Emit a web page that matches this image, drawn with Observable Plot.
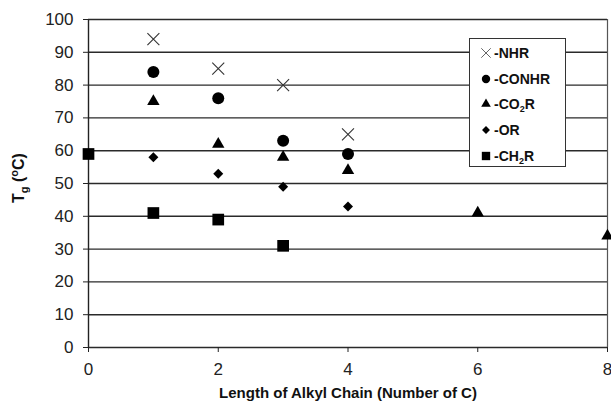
<!DOCTYPE html>
<html><head><meta charset="utf-8">
<script src="https://cdn.jsdelivr.net/npm/d3@7"></script>
<script src="https://cdn.jsdelivr.net/npm/@observablehq/plot@0.6"></script>
<style>
body{margin:0;background:#fff;}
#wrap{position:relative;width:611px;height:403px;font-family:"Liberation Sans",Arial,sans-serif;}
#legend{position:absolute;left:469px;top:38px;width:97px;height:129px;background:#fff;border:1px solid #333;box-sizing:border-box;font-weight:bold;font-size:14px;color:#111;}
#legend .row{position:absolute;left:10px;height:16px;display:flex;align-items:center;white-space:nowrap;}
#legend svg{margin-right:2px;}
sub{font-size:9px;vertical-align:-3px;line-height:0;}
</style>
</head><body><div id="wrap"></div>
<script>
const xTicks = [0, 2, 4, 6, 8];
const yTicks = [0, 10, 20, 30, 40, 50, 60, 70, 80, 90, 100];
const seriesLabels = ["-NHR", "-CONHR", "-CO<sub>2</sub>R", "-OR", "-CH<sub>2</sub>R"];
const nhrX = [1, 2, 3, 4];
const nhrY = [94, 85, 80, 65];
const conhrX = [1, 2, 3, 4];
const conhrY = [84, 76, 63, 59];
const co2rX = [1, 2, 3, 4, 6, 8];
const co2rY = [75, 62, 58, 54, 41, 34];
const orX = [1, 2, 3, 4];
const orY = [58, 53, 49, 43];
const ch2rX = [0, 1, 2, 3];
const ch2rY = [59, 41, 39, 31];

const pts = (xs, ys) => xs.map((x, i) => ({x, y: ys[i]}));
const font = '"Liberation Sans", Arial, sans-serif';

const chart = Plot.plot({
  width: 611, height: 403,
  marginLeft: 88, marginRight: 4, marginTop: 19, marginBottom: 56,
  style: {fontFamily: font, fontSize: "16px", color: "#222", background: "#fff", overflow: "hidden"},
  x: {domain: [0, 8], label: null},
  y: {domain: [0, 100], label: null},
  marks: [
    Plot.ruleY(yTicks, {stroke: "#2a2a2a", strokeWidth: 1.4}),
    Plot.ruleX([8], {stroke: "#555", strokeWidth: 1.2}),
    Plot.ruleX([0], {stroke: "#222", strokeWidth: 1.4}),
    Plot.axisY({ticks: yTicks, tickSize: 5, tickPadding: 10, fontSize: 17, stroke: "#222", tickFormat: d => d}),
    Plot.axisX({ticks: xTicks, tickSize: 5, tickPadding: 10, fontSize: 17, stroke: "#222", tickFormat: d => d}),
    Plot.dot(pts(ch2rX, ch2rY), {x: "x", y: "y", symbol: "square", r: 6.6, fill: "#000", stroke: "none"}),
    Plot.dot(pts(orX, orY), {x: "x", y: "y", symbol: "diamond2", r: 4.5, fill: "#000", stroke: "none"}),
    Plot.dot(pts(co2rX, co2rY), {x: "x", y: "y", symbol: "triangle", r: 4.6, fill: "#000", stroke: "none"}),
    Plot.dot(pts(conhrX, conhrY), {x: "x", y: "y", symbol: "circle", r: 6, fill: "#000", stroke: "none"}),
    Plot.dot(pts(nhrX, nhrY), {x: "x", y: "y", symbol: "times", r: 5.5, stroke: "#333", strokeWidth: 1.1})
  ]
});

const svg = d3.select(chart);
svg.selectAll('g[aria-label$="tick label"] text').style("font-size", "17px");
svg.append("text")
  .attr("x", 348).attr("y", 398)
  .attr("text-anchor", "middle")
  .attr("font-family", font).attr("font-weight", "bold").attr("font-size", 15).attr("fill", "#111")
  .text("Length of Alkyl Chain (Number of C)");
const yl = svg.append("text")
  .attr("transform", "translate(24,178) rotate(-90)")
  .attr("text-anchor", "middle")
  .attr("font-family", font).attr("font-weight", "bold").attr("font-size", 16).attr("fill", "#111");
yl.append("tspan").text("T");
yl.append("tspan").attr("font-size", 11).attr("dy", 4).text("g");
yl.append("tspan").attr("dy", -4).text(" (");
yl.append("tspan").attr("font-size", 11).attr("dy", -6).text("o");
yl.append("tspan").attr("dy", 6).text("C)");

const wrap = document.getElementById("wrap");
wrap.appendChild(chart);

// legend
const legend = document.createElement("div");
legend.id = "legend";
const symbols = [d3.symbolTimes, d3.symbolCircle, d3.symbolTriangle, d3.symbolDiamond2, d3.symbolSquare];
const symSizes = [60, 55, 40, 40, 70];
seriesLabels.forEach((lab, i) => {
  const row = document.createElement("div");
  row.className = "row";
  row.style.top = (6 + i * 25.7) + "px";
  const s = d3.create("svg").attr("width", 12).attr("height", 12);
  const p = s.append("path").attr("transform", "translate(6,6)").attr("d", d3.symbol(symbols[i], symSizes[i])());
  if (i === 0) p.attr("fill", "none").attr("stroke", "#666").attr("stroke-width", 1);
  else p.attr("fill", "#000");
  row.appendChild(s.node());
  const t = document.createElement("span");
  t.innerHTML = lab;
  row.appendChild(t);
  legend.appendChild(row);
});
wrap.appendChild(legend);
</script>
</body></html>
